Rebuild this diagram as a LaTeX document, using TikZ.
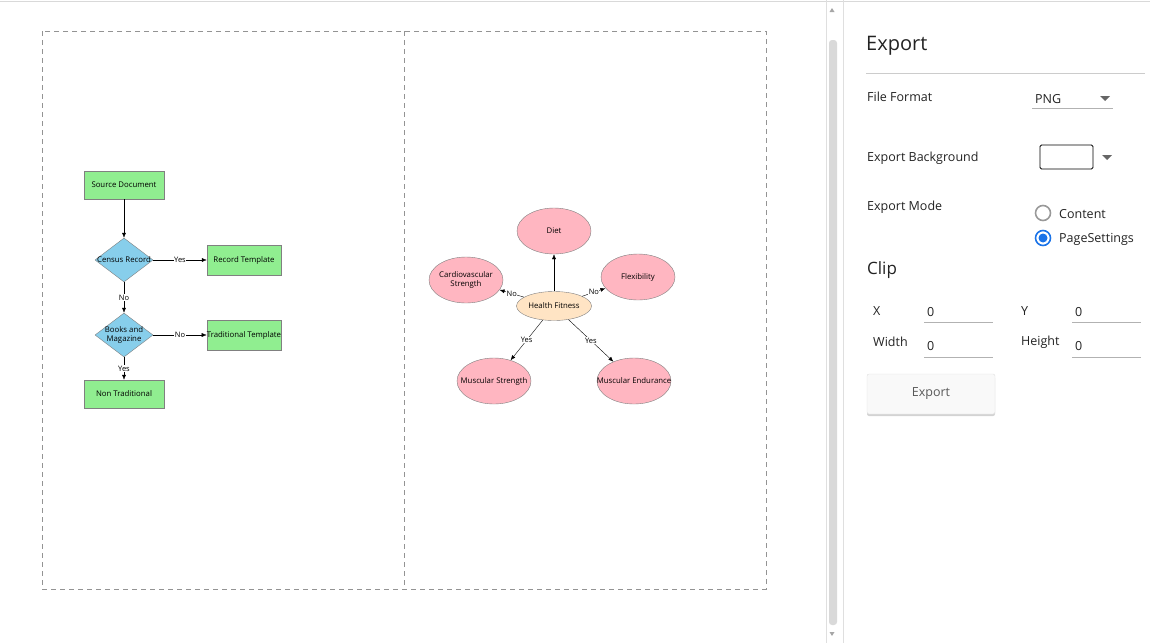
\documentclass[tikz,border=0pt]{standalone}
\usepackage{fontspec}
\setmainfont{Open Sans}
\usetikzlibrary{shapes.geometric,arrows.meta,shadows}
\definecolor{boxgreen}{HTML}{90EE90}
\definecolor{deciblue}{HTML}{87CEEB}
\definecolor{petal}{HTML}{FFB6C1}
\definecolor{hubfill}{HTML}{FFE4C4}
\definecolor{uiblue}{HTML}{1A73E8}
\definecolor{uitext}{HTML}{222222}
\tikzset{
	nodefont/.style={font=\fontsize{7.8}{9}\selectfont},
	pagebox/.style={draw=gray!85, dash pattern=on 5pt off 4pt, line width=.9pt},
	process/.style={rectangle, draw=gray, fill=boxgreen, minimum width=80pt, minimum height=28pt, inner sep=1pt, nodefont},
	decision/.style={diamond, draw=gray, fill=deciblue, minimum width=58pt, minimum height=44pt, inner sep=0pt},
	petalnode/.style={ellipse, draw=gray, fill=petal, minimum width=74pt, minimum height=46pt, inner sep=0pt},
	hubnode/.style={ellipse, draw=gray, fill=hubfill, minimum width=75pt, minimum height=29pt, inner sep=0pt},
	edgelabel/.style={fill=white, inner sep=.5pt, font=\fontsize{7.5}{8}\selectfont},
	uilabel/.style={anchor=west, text=uitext, inner sep=1pt, font=\fontsize{12.5}{14}\selectfont},
	uiline/.style={draw=gray!60, line width=1pt}
}
\begin{document}
\begin{tikzpicture}[x=1pt, y=-1pt, >={Latex[length=5pt,width=4pt]}]
		\useasboundingbox (0,0) rectangle (1150,643);
		% canvas
		\draw[gray!30, line width=1pt] (0,1) -- (1150,1);
		\draw[pagebox] (42,31) rectangle (766,589);
		\draw[pagebox] (404,31) -- (404,589);

		% flow chart
		\node[process] (source) at (124,185) {Source Document};
		\node[decision, label={[nodefont]center:Census Record}] (census) at (124,260) {};
		\node[process, minimum width=74pt, minimum height=30pt] (record) at (244,260) {Record Template};
		\node[decision, label={[nodefont, align=center]center:Books and\\Magazine}] (books) at (124,335) {};
		\node[process, minimum width=74pt, minimum height=30pt, inner sep=0pt] (traditional) at (244,335) {Traditional Template};
		\node[process] (nontrad) at (124,394) {Non Traditional};
		\draw[->] (source)--(census);
		\draw[->] (census)-- node[edgelabel] {Yes} (record);
		\draw[->] (census)-- node[edgelabel] {No} (books);
		\draw[->] (books)-- node[edgelabel] {No} (traditional);
		\draw[->] (books)-- node[edgelabel] {Yes} (nontrad);

		% mind map
		\node[hubnode, label={[nodefont]center:Health Fitness}] (fitness) at (554,306) {};
		\node[petalnode, label={[nodefont]center:Diet}] (diet) at (554,231) {};
		\node[petalnode, label={[nodefont]center:Flexibility}] (flex) at (638,277) {};
		\node[petalnode, label={[nodefont, align=center]center:Cardiovascular\\Strength}] (cardio) at (466,280) {};
		\node[petalnode, label={[nodefont]center:Muscular Strength}] (strength) at (494,381) {};
		\node[petalnode, label={[nodefont]center:Muscular Endurance}] (endurance) at (634,381) {};
		\draw[->] (fitness)--(diet);
		\draw[->] (fitness)-- node[edgelabel] {No} (flex);
		\draw[->] (fitness)-- node[edgelabel] {No} (cardio);
		\draw[->] (fitness)-- node[edgelabel] {Yes} (strength);
		\draw[->] (fitness)-- node[edgelabel] {Yes} (endurance);

		% scroll bar
		\draw[gray!25] (826,0)--(826,643);
		\draw[gray!25] (843,0)--(843,643);
		\fill[gray!30, rounded corners=3pt] (829,40) rectangle (837,625);
		\fill[gray!70] (829.5,12)--(834.5,12)--(832,8)--cycle;
		\fill[gray!70] (829.5,632)--(834.5,632)--(832,636)--cycle;

		% export panel
		\node[anchor=west, text=uitext, inner sep=1pt, font=\fontsize{20}{24}\selectfont] (title) at (865,46) {Export};
		\draw[gray!40, line width=1pt] (866,73)--(1145,73);
		\node[uilabel] (format) at (866,97) {File Format};
		\node[uilabel] (png) at (1034,99) {PNG};
		\draw[uiline] (1032,108)--(1113,108);
		\fill[gray!80!black] (1100,96)--(1110,96)--(1105,101)--cycle;
		\node[uilabel] (background) at (866,158) {Export Background};
		\draw[black, line width=.8pt, rounded corners=1.5pt] (1040,145) rectangle (1093,169);
		\fill[gray!80!black] (1102,155)--(1112,155)--(1107,160)--cycle;
		\node[uilabel] (mode) at (866,207) {Export Mode};
		\draw[gray!80, line width=1.6pt] (1043,213) circle (7.5);
		\node[uilabel] (content) at (1058,214) {Content};
		\draw[uiblue, line width=1.6pt] (1043,238) circle (7.5);
		\fill[uiblue] (1043,238) circle (4.5);
		\node[uilabel] (pagesettings) at (1058,239) {PageSettings};
		\node[anchor=west, text=uitext, inner sep=1pt, font=\fontsize{17}{20}\selectfont] (clip) at (866,270) {Clip};
		\node[uilabel] (xlabel) at (872,311) {X};
		\node[uilabel] (xvalue) at (926,312) {0};
		\draw[uiline] (924,322)--(993,322);
		\node[uilabel] (ylabel) at (1020,311) {Y};
		\node[uilabel] (yvalue) at (1074,312) {0};
		\draw[uiline] (1072,322)--(1141,322);
		\node[uilabel] (wlabel) at (872,342) {Width};
		\node[uilabel] (wvalue) at (926,346) {0};
		\draw[uiline] (924,357)--(993,357);
		\node[uilabel] (hlabel) at (1020,342) {Height};
		\node[uilabel] (hvalue) at (1074,346) {0};
		\draw[uiline] (1072,357)--(1141,357);
		\node[rectangle, draw=gray!25, fill=gray!5, rounded corners=2pt, minimum width=128pt, minimum height=40pt,
			drop shadow={opacity=.35, shadow xshift=0pt, shadow yshift=-2pt},
			text=gray!70!black, font=\fontsize{12.5}{14}\selectfont] (exportbtn) at (931,394) {Export};
\end{tikzpicture}
\end{document}
